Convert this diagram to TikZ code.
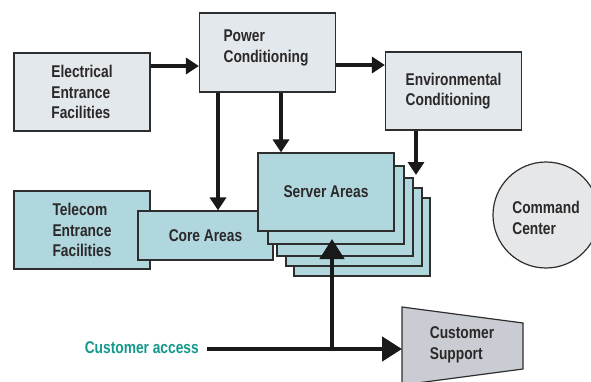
\documentclass[tikz,border=0pt]{standalone}
\usepackage{fontspec}
\setmainfont{Liberation Sans}[FakeStretch=0.81,BoldFont={Liberation Sans Bold}]
\usetikzlibrary{arrows.meta}
\definecolor{edge}{HTML}{2E2E2E}
\definecolor{ink}{HTML}{2B2829}
\definecolor{paleblue}{HTML}{E2E8EB}
\definecolor{teal}{HTML}{B0D7DD}
\definecolor{palegrey}{HTML}{E6E7E9}
\definecolor{supportgrey}{HTML}{C9CCD2}
\definecolor{accessgreen}{HTML}{13998B}
\tikzset{
  txt/.style={font=\fontsize{17}{20.7}\selectfont\bfseries, text=ink, align=left, inner sep=0pt},
  box/.style={txt, draw=edge, line width=1.2pt, minimum width=136pt, minimum height=78pt},
  palebox/.style={box, fill=paleblue},
  tealbox/.style={box, fill=teal},
  arr/.style={draw=black!90, line width=3.4pt, -{Triangle[length=13pt,width=16pt]}},
  bigarr/.style={draw=black!90, line width=4.6pt, -{Triangle[length=20pt,width=24pt]}},
}
\begin{document}
\begin{tikzpicture}[x=1pt,y=-1pt]
  \useasboundingbox (0,0) rectangle (591,381);
  \clip (0,0) rectangle (591,381);

  % top row
  \node[palebox] (el) at (82,92) {Electrical\\Entrance\\Facilities};
  \node[palebox, minimum height=79pt] (pc) at (267.5,52.5) {};
  \node[txt] (pct) at (266,48) {Power\\Conditioning};
  \node[palebox] (env) at (453.5,91) {Environmental\\Conditioning};

  % telecom and core
  \node[tealbox] (tel) at (82,230) {Telecom\\Entrance\\Facilities};
  \node[tealbox, minimum width=135pt, minimum height=49pt] (core) at (205.5,235.5) {Core Areas};

  % stack of server areas, back to front
  \node[tealbox] (sv5) at (362,237) {};
  \node[tealbox] (sv4) at (354,227) {};
  \node[tealbox] (sv3) at (345,217) {};
  \node[tealbox] (sv2) at (336,205) {};
  \node[tealbox] (sv1) at (326,192) {Server Areas};

  % command center
  \node[circle, draw=edge, line width=1.2pt, fill=palegrey, minimum size=106pt,
        inner sep=0pt] (cc) at (546,215) {};
  \node[txt] (cct) at (546,218) {Command\\Center};

  % customer support
  \coordinate (csa) at (402,307);
  \coordinate (csb) at (523,323);
  \coordinate (csc) at (523,369);
  \coordinate (csd) at (402,385);
  \draw[edge, line width=1.2pt, fill=supportgrey] (csa) -- (csb) -- (csc) -- (csd) -- cycle;
  \node[txt] (cs) at (462,345) {Customer\\Support};
  \coordinate (cswest) at (402,349);

  % customer access
  \node[txt, text=accessgreen, anchor=east] (ca) at (199,348) {Customer access};

  % connectors
  \coordinate (a1) at ([yshift=26pt]el.east);
  \draw[arr] (a1) -- (a1 -| pc.west);
  \coordinate (a2) at ([yshift=26pt]env.west);
  \draw[arr] (a2 -| pc.east) -- (a2);
  \coordinate (c1) at ([xshift=12.5pt]core.north);
  \draw[arr] (c1 |- pc.south) -- (c1);
  \coordinate (s1) at ([xshift=-45pt]sv1.north);
  \draw[arr] (s1 |- pc.south) -- (s1);
  \coordinate (envtip) at (416,175);
  \draw[arr] (envtip |- env.south) -- (envtip);

  \coordinate (cstart) at ([xshift=8pt]ca.east);
  \draw[bigarr] (cstart |- cswest) -- (cswest);
  \coordinate (jn) at (332,351.3);
  \coordinate (uptip) at (332,239);
  \draw[bigarr] (jn) -- (uptip);
\end{tikzpicture}
\end{document}
